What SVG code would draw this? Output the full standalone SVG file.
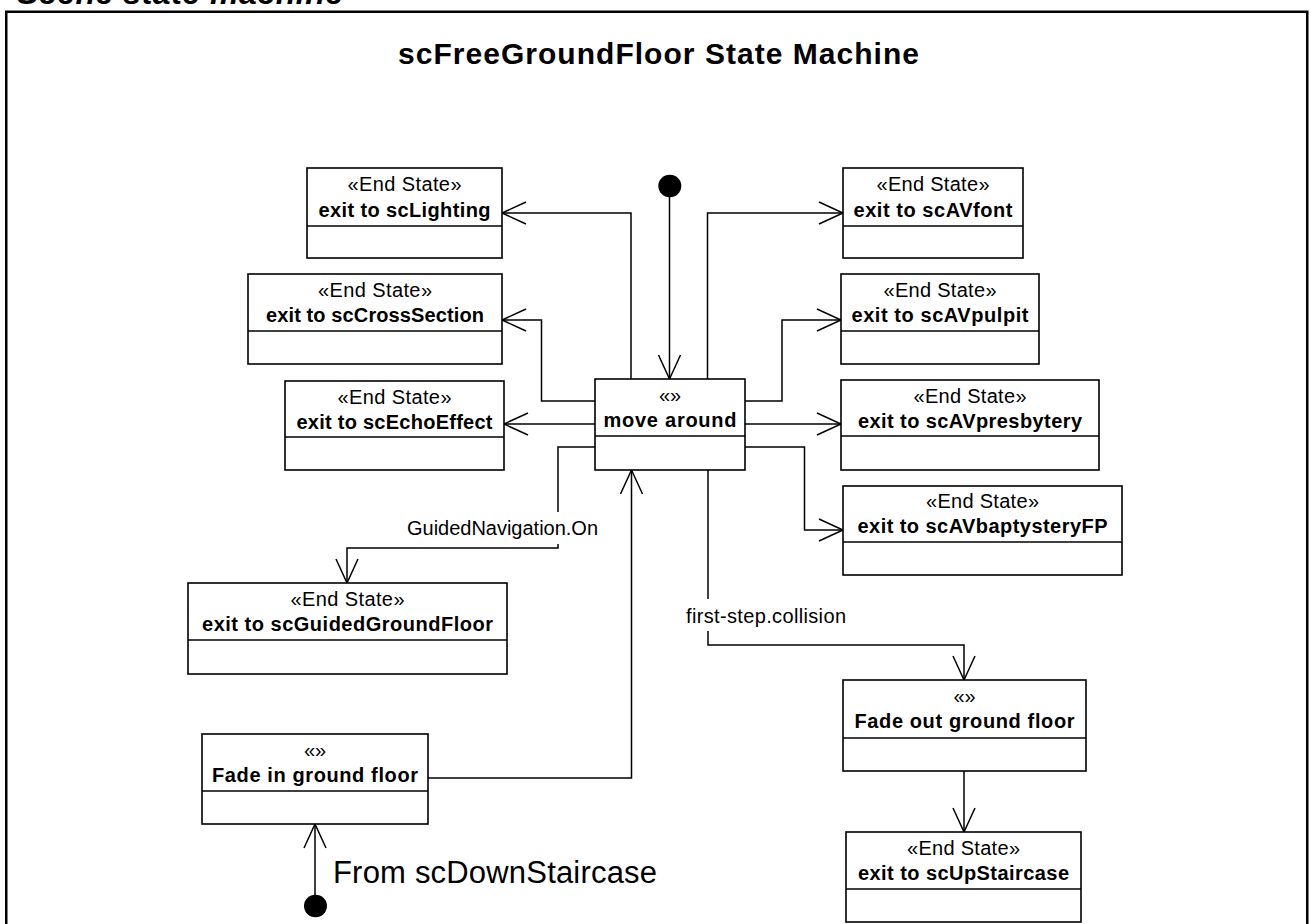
<svg xmlns="http://www.w3.org/2000/svg" width="1311" height="924" viewBox="0 0 1311 924">
<defs>
<style>
.bx{fill:#fff;stroke:#000;stroke-width:1.6}
.dv{stroke:#000;stroke-width:1.6}
.ln{fill:none;stroke:#000;stroke-width:1.5}
.st{font-family:"Liberation Sans",Arial,sans-serif;font-size:20px;text-anchor:middle;fill:#000}
.nm{font-family:"Liberation Sans",Arial,sans-serif;font-size:20px;font-weight:bold;text-anchor:middle;fill:#000}
.lb{font-family:"Liberation Sans",Arial,sans-serif;font-size:20px;text-anchor:middle;fill:#000}
.dot{fill:#000}
</style>
<marker id="ah" markerUnits="userSpaceOnUse" viewBox="-26 -13 28 26" markerWidth="28" markerHeight="26" refX="0" refY="0" orient="auto" overflow="visible">
<path d="M-24,-11 L0,0 L-24,11" fill="none" stroke="#000" stroke-width="1.5"/>
</marker>
</defs>
<rect width="1311" height="924" fill="#fff"/>
<text x="17" y="4" textLength="326" style="font-family:'Liberation Sans',Arial,sans-serif;font-size:32px;font-weight:bold;font-style:italic">Scene state machine</text>
<rect x="6.25" y="11.75" width="1301" height="1000" fill="none" stroke="#000" stroke-width="2.5"/>
<text x="658.5" y="64" textLength="521" text-anchor="middle" style="font-family:'Liberation Sans',Arial,sans-serif;font-size:30px;font-weight:bold">scFreeGroundFloor State Machine</text>

<g id="connectors">
<path class="ln" d="M669.5,197 V379" marker-end="url(#ah)"/>
<path class="ln" d="M631,379 V213 H502" marker-end="url(#ah)"/>
<path class="ln" d="M595,401 H541.5 V320 H502" marker-end="url(#ah)"/>
<path class="ln" d="M595,424 H504" marker-end="url(#ah)"/>
<path class="ln" d="M595,447 H558 V512"/>
<path class="ln" d="M558,544 V548 H347 V583" marker-end="url(#ah)"/>
<text class="lb" x="502.5" y="535" textLength="191">GuidedNavigation.On</text>
<path class="ln" d="M707.5,379 V213 H843" marker-end="url(#ah)"/>
<path class="ln" d="M745,401 H782 V320 H841" marker-end="url(#ah)"/>
<path class="ln" d="M745,424 H841" marker-end="url(#ah)"/>
<path class="ln" d="M745,447 H804.5 V530 H843" marker-end="url(#ah)"/>
<path class="ln" d="M708,470 V599"/>
<path class="ln" d="M708,631 V645 H964 V680" marker-end="url(#ah)"/>
<text class="lb" x="766" y="623" textLength="160">first-step.collision</text>
<path class="ln" d="M964,771 V832" marker-end="url(#ah)"/>
<path class="ln" d="M428,778 H631.5 V470" marker-end="url(#ah)"/>
<path class="ln" d="M315,895 V824" marker-end="url(#ah)"/>
</g>

<g id="init-top"><ellipse class="dot" cx="669.8" cy="186" rx="11.5" ry="11.2"/></g>
<g id="init-bottom"><ellipse class="dot" cx="315.5" cy="906" rx="11.5" ry="11.2"/>
<text x="333" y="883" textLength="324" style="font-family:'Liberation Sans',Arial,sans-serif;font-size:31px">From scDownStaircase</text></g>

<g id="scLighting">
<rect class="bx" x="307" y="168" width="195" height="90"/><line class="dv" x1="307" y1="226" x2="502" y2="226"/>
<text class="st" x="404.5" y="191" textLength="114">«End State»</text>
<text class="nm" x="404.5" y="217" textLength="172">exit to scLighting</text>
</g>
<g id="scCrossSection">
<rect class="bx" x="248" y="274" width="254" height="90"/><line class="dv" x1="248" y1="331" x2="502" y2="331"/>
<text class="st" x="375" y="297" textLength="114">«End State»</text>
<text class="nm" x="375" y="322" textLength="218">exit to scCrossSection</text>
</g>
<g id="scEchoEffect">
<rect class="bx" x="285" y="381" width="219" height="89"/><line class="dv" x1="285" y1="437" x2="504" y2="437"/>
<text class="st" x="394.5" y="404" textLength="114">«End State»</text>
<text class="nm" x="394.5" y="429" textLength="196">exit to scEchoEffect</text>
</g>
<g id="scGuidedGroundFloor">
<rect class="bx" x="188" y="583" width="319" height="91"/><line class="dv" x1="188" y1="640" x2="507" y2="640"/>
<text class="st" x="347.5" y="606" textLength="114">«End State»</text>
<text class="nm" x="347.5" y="631" textLength="291">exit to scGuidedGroundFloor</text>
</g>
<g id="fadeIn">
<rect class="bx" x="202" y="734" width="226" height="90"/><line class="dv" x1="202" y1="791" x2="428" y2="791"/>
<text class="st" x="315" y="757">«»</text>
<text class="nm" x="315" y="782" textLength="206">Fade in ground floor</text>
</g>
<g id="moveAround">
<rect class="bx" x="595" y="379" width="150" height="91"/><line class="dv" x1="595" y1="436" x2="745" y2="436"/>
<text class="st" x="670" y="402">«»</text>
<text class="nm" x="670" y="427" textLength="133">move around</text>
</g>
<g id="scAVfont">
<rect class="bx" x="843" y="168" width="180" height="90"/><line class="dv" x1="843" y1="226" x2="1023" y2="226"/>
<text class="st" x="933" y="191" textLength="113">«End State»</text>
<text class="nm" x="933" y="217" textLength="159">exit to scAVfont</text>
</g>
<g id="scAVpulpit">
<rect class="bx" x="841" y="274" width="198" height="90"/><line class="dv" x1="841" y1="331" x2="1039" y2="331"/>
<text class="st" x="940" y="297" textLength="113">«End State»</text>
<text class="nm" x="940" y="322" textLength="177">exit to scAVpulpit</text>
</g>
<g id="scAVpresbytery">
<rect class="bx" x="841" y="380" width="258" height="90"/><line class="dv" x1="841" y1="436" x2="1099" y2="436"/>
<text class="st" x="970" y="403" textLength="113">«End State»</text>
<text class="nm" x="970" y="428" textLength="224">exit to scAVpresbytery</text>
</g>
<g id="scAVbaptysteryFP">
<rect class="bx" x="843" y="486" width="279" height="89"/><line class="dv" x1="843" y1="542" x2="1122" y2="542"/>
<text class="st" x="982.5" y="508" textLength="113">«End State»</text>
<text class="nm" x="982.5" y="533" textLength="250">exit to scAVbaptysteryFP</text>
</g>
<g id="fadeOut">
<rect class="bx" x="843" y="680" width="243" height="91"/><line class="dv" x1="843" y1="738" x2="1086" y2="738"/>
<text class="st" x="964.5" y="703">«»</text>
<text class="nm" x="964.5" y="728" textLength="220">Fade out ground floor</text>
</g>
<g id="scUpStaircase">
<rect class="bx" x="846" y="832" width="235" height="90"/><line class="dv" x1="846" y1="889" x2="1081" y2="889"/>
<text class="st" x="963.5" y="855" textLength="113">«End State»</text>
<text class="nm" x="963.5" y="880" textLength="211">exit to scUpStaircase</text>
</g>
</svg>
